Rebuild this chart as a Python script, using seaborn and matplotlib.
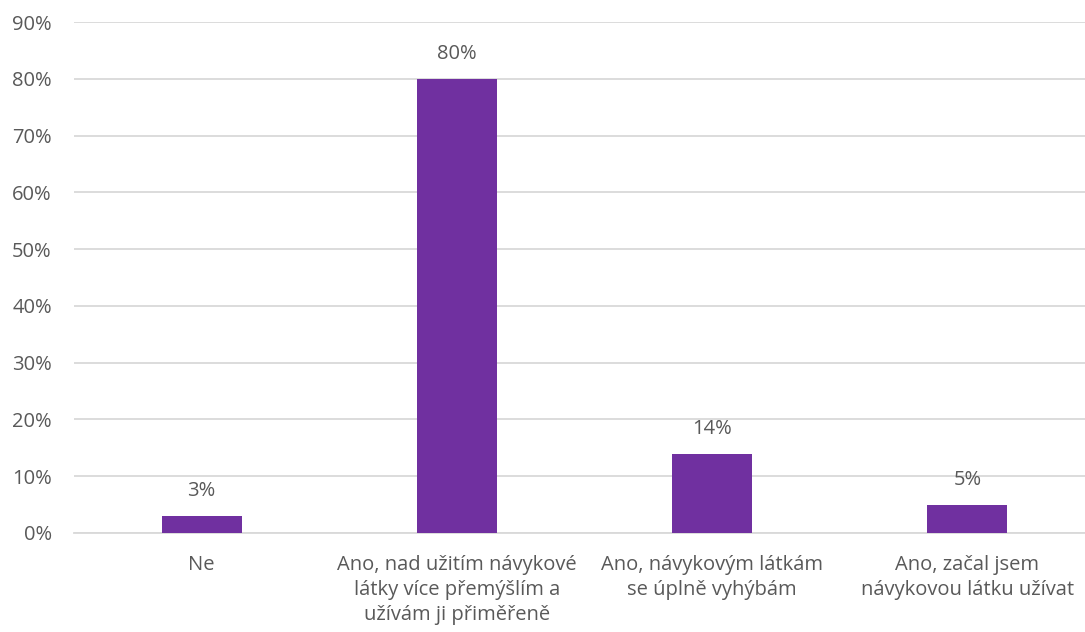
import matplotlib
matplotlib.use("Agg")
import matplotlib.pyplot as plt
import seaborn as sns
import pandas as pd
from matplotlib.ticker import PercentFormatter

# ── Data ──────────────────────────────────────────────────────────────────────
categories = [
    "Ne",
    "Ano, nad užitím návykové\nlátky více přemýšlím a\nužívám ji přiměřeně",
    "Ano, návykovým látkám\nse úplně vyhýbám",
    "Ano, začal jsem\nnávykovou látku užívat",
]
values = [3, 80, 14, 5]

TEXT = "#595959"
GRID = "#D9D9D9"
BAR = "#7030A0"

sns.set_theme(style="white")
plt.rcParams["font.family"] = ["Open Sans", "DejaVu Sans"]

df = pd.DataFrame({"cat": categories, "val": values})

fig = plt.figure(figsize=(10.85, 6.32), dpi=100)
ax = fig.add_axes([74 / 1085, 1 - 533 / 632, 1021 / 1085, (533 - 22) / 632])

sns.barplot(data=df, x="cat", y="val", color=BAR, width=0.313, saturation=1,
            linewidth=0, ax=ax, zorder=3)

ax.set_ylim(0, 90)
ax.set_yticks(range(0, 91, 10))
ax.yaxis.set_major_formatter(PercentFormatter(decimals=0))
ax.grid(axis="y", color=GRID, lw=1.3, zorder=0)
ax.set_axisbelow(True)
for s in ["top", "right", "left"]:
    ax.spines[s].set_visible(False)
ax.spines["bottom"].set_color(GRID)
ax.spines["bottom"].set_linewidth(1.3)
ax.set_xlabel("")
ax.set_ylabel("")
ax.tick_params(axis="y", length=0, labelsize=14.5, colors=TEXT, pad=16)
ax.tick_params(axis="x", length=0, labelsize=14.5, colors=TEXT, pad=16)
for lbl in ax.get_xticklabels():
    lbl.set_linespacing(1.32)

for i, v in enumerate(values):
    ax.annotate(f"{v}%", (i, v), xytext=(0, 18), textcoords="offset points",
                ha="center", va="center", fontsize=14.5, color=TEXT)

fig.savefig("out.png", dpi=100)
